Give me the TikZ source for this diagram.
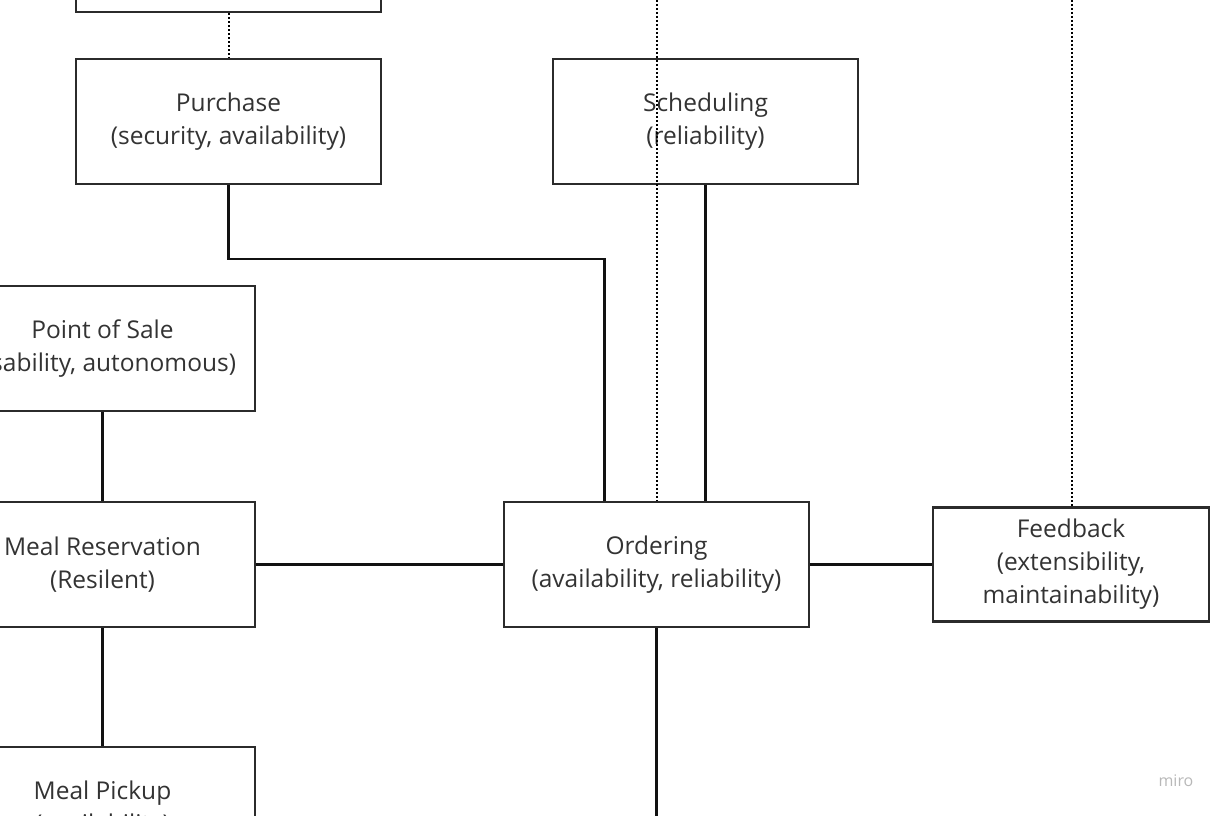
\documentclass[tikz,border=0pt]{standalone}
\usepackage{fontspec}
\setmainfont{Open Sans}
\definecolor{boxline}{HTML}{2B2B2B}
\definecolor{ink}{HTML}{333333}
\definecolor{wire}{HTML}{111111}
\begin{document}
\begin{tikzpicture}[x=1pt,y=-1pt,
  box/.style={draw=boxline, line width=2.2pt, minimum width=305pt, minimum height=125pt,
    inner sep=0pt, align=center, text=ink, font=\fontsize{24.5}{33}\selectfont},
  link/.style={draw=wire, line width=2.2pt},
  dots/.style={draw=black, line width=2pt, dash pattern=on 2pt off 2pt}]
\useasboundingbox (0,0) rectangle (1224,816);
\clip (0,0) rectangle (1224,816);

% service boxes
\node[box] (top)      at (228.5,-50.5) {};
\node[box] (purchase) at (228.5,121.5) {Purchase\\(security, availability)};
\node[box] (sched)    at (705.5,121.5) {Scheduling\\(reliability)};
\node[box] (pos)      at (102.5,348.5) {Point of Sale\\(usability, autonomous)};
\node[box] (mealres)  at (102.5,564.5) {Meal Reservation\\(Resilent)};
\node[box] (pickup)   at (102.5,809.5) {Meal Pickup\\(availability)};
\node[box] (ordering) at (656.5,564.5) {Ordering\\(availability, reliability)};
\node[box, minimum width=276pt, minimum height=114pt] (feedback) at (1071,564.5)
  {Feedback\\(extensibility,\\maintainability)};

% watermark
\node[text=black!28, font=\fontsize{16}{16}\selectfont] (brand) at (1176,781) {miro};

% free ends at the picture border
\coordinate (upA) at (657,0);
\coordinate (upB) at (1072,0);
\coordinate (ordW) at ([xshift=-52pt]ordering.north);

% solid connectors
\draw[link] (purchase.south) -- ++(0,74) -| (ordW);
\draw[link] (sched.south) -- (sched.south |- ordering.north);
\draw[link] (pos.south) -- (mealres.north);
\draw[link] (mealres.south) -- (pickup.north);
\draw[link] (mealres.east) -- (ordering.west);
\draw[link] (ordering.east) -- (feedback.west);
\draw[link] (ordering.south) -- ++(0,200);

% dotted connectors
\draw[dots] (top.south) -- (purchase.north);
\draw[dots] (upA) -- (upA |- ordering.north);
\draw[dots] (upB) -- (upB |- feedback.north);
\end{tikzpicture}
\end{document}
